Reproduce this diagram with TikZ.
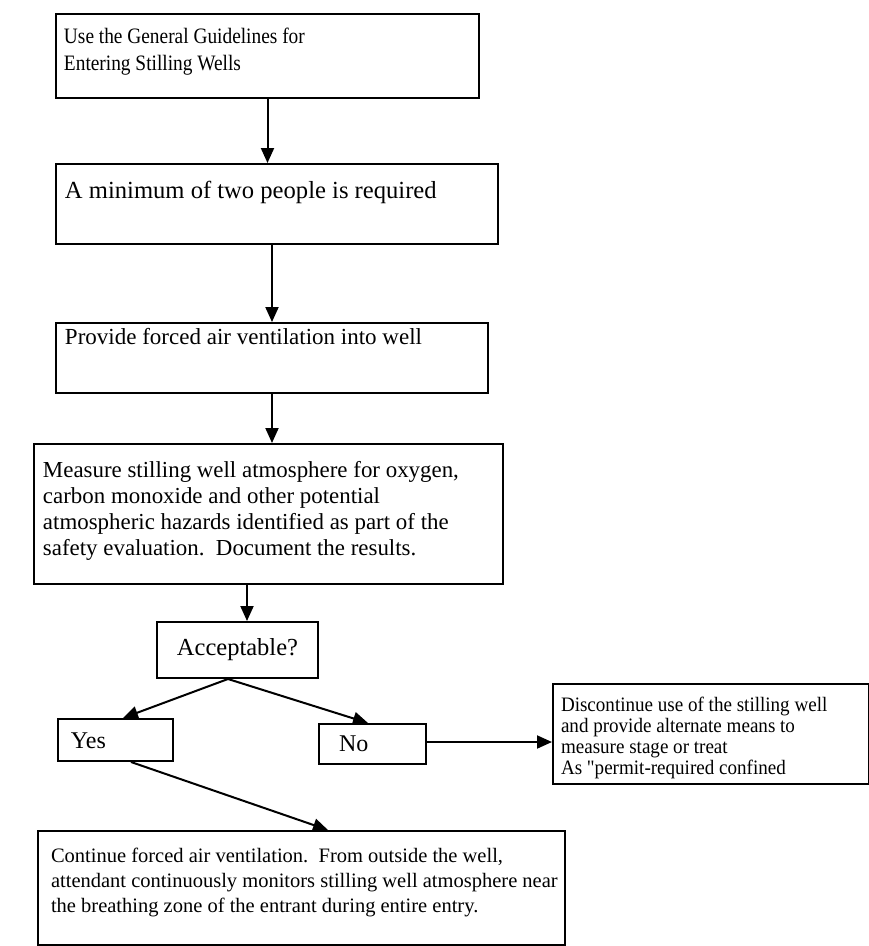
\documentclass[tikz,border=0pt]{standalone}
\usepackage{fontspec}
\setmainfont{Liberation Serif}
\newfontfamily\condfont[FakeStretch=0.88]{Liberation Serif}
\newfontfamily\narrowfont[FakeStretch=0.93]{Liberation Serif}
\usetikzlibrary{arrows.meta,calc}
% W H top left fontcmd text
\newcommand\boxtext[6]{\parbox[c][#2pt][t]{#1pt}{#5\vspace*{#3pt}\leftskip=#4pt\relax #6\par}}
\begin{document}
\begin{tikzpicture}[x=1pt,y=-1pt,
  box/.style={draw, line width=2pt, inner sep=0pt, anchor=north west},
  flow/.style={line width=2pt, -{Triangle[length=15pt,width=13pt]}}]
\path[use as bounding box, fill=white] (0,0) rectangle (869,946);

\node[box] (b1) at (55,13) {\boxtext{423}{84}{13.6}{8}{\condfont\fontsize{22}{27}\selectfont}{\mbox{Use the General Guidelines for}\\\mbox{Entering Stilling Wells}}};

\node[box] (b2) at (55,163) {\boxtext{442}{80}{17.6}{9}{\fontsize{24.6}{28}\selectfont}{\mbox{A minimum of two people is required}}};

\node[box] (b3) at (55,322) {\boxtext{432}{70}{5.3}{9}{\fontsize{23}{27}\selectfont}{\mbox{Provide forced air ventilation into well}}};

\node[box] (b4) at (33,443) {\boxtext{469}{140}{17.2}{9}{\fontsize{22.9}{26}\selectfont}{\mbox{Measure stilling well atmosphere for oxygen,}\\\mbox{carbon monoxide and other potential}\\\mbox{atmospheric hazards identified as part of the}\\\mbox{safety evaluation.\ \ Document the results.}}};

\node[box, anchor=center, minimum width=161pt, minimum height=56pt, font=\fontsize{24.5}{28}\selectfont] (acc) at (237.5,650) {Acceptable?};

\node[box] (yes) at (57,718) {\boxtext{115}{42}{13.9}{13}{\fontsize{24}{28}\selectfont}{Yes}};

\node[box] (no) at (318,723) {\boxtext{107}{40}{11.9}{20}{\fontsize{24}{28}\selectfont}{No}};

\node[box] (disc) at (552,683) {\boxtext{316}{100}{13}{8}{\narrowfont\fontsize{20.5}{21}\selectfont}{\mbox{Discontinue use of the stilling well}\\\mbox{and provide alternate means to}\\\mbox{measure stage or treat}\\\mbox{As "permit-required confined}}};

\node[box] (cont) at (37,830) {\boxtext{527}{114}{17}{13}{\fontsize{20.5}{25}\selectfont}{\mbox{Continue forced air ventilation.\ \ From outside the well,}\\\mbox{attendant continuously monitors stilling well atmosphere near}\\\mbox{the breathing zone of the entrant during entire entry.}}};

\draw[flow] (b1.south) -- (b1.south |- b2.north);
\draw[flow] (b3.north |- b2.south) -- (b3.north);
\draw[flow] (b3.south) -- (b3.south |- b4.north);
\coordinate (t4) at ($(acc.north)+(9.5,0)$);
\draw[flow] (t4 |- b4.south) -- (t4);
\coordinate (s5) at ($(acc.south)+(-9.5,0)$);
\coordinate (tyes) at ($(yes.north)+(7.5,0)$);
\coordinate (tno) at ($(no.north)+(-4.5,0)$);
\draw[flow] (s5) -- (tyes);
\draw[flow] (s5) -- (tno);
\draw[flow] ([yshift=2pt]no.east) -- ([yshift=2pt]no.east -| disc.west);
\coordinate (syes) at ($(yes.south)+(15.5,0)$);
\coordinate (tcont) at ($(cont.north)+(26.5,0)$);
\draw[flow] (syes) -- (tcont);
\end{tikzpicture}
\end{document}
